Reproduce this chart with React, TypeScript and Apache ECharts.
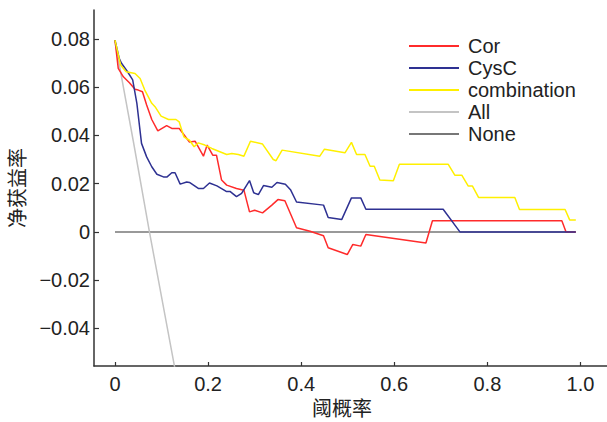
import React, { useEffect, useRef } from "react";
import * as echarts from "echarts";

const xTicks = [0, 0.2, 0.4, 0.6, 0.8, 1.0];
const yTicks = [-0.04, -0.02, 0, 0.02, 0.04, 0.06, 0.08];

const corData: [number, number][] = [
  [0, 0.0795], [0.007, 0.0678], [0.018, 0.0643], [0.031, 0.0618], [0.043, 0.0591],
  [0.05, 0.0588], [0.059, 0.0581], [0.068, 0.0526], [0.079, 0.0466], [0.092, 0.0419],
  [0.111, 0.0441], [0.122, 0.0429], [0.138, 0.0429], [0.16, 0.0373], [0.172, 0.0376],
  [0.19, 0.0314], [0.198, 0.036], [0.21, 0.0318], [0.218, 0.0318], [0.229, 0.0215],
  [0.24, 0.0194], [0.261, 0.018], [0.277, 0.0173], [0.289, 0.0083], [0.3, 0.009],
  [0.317, 0.0079], [0.337, 0.0111], [0.35, 0.0134], [0.365, 0.0129], [0.39, 0.0017],
  [0.419, 0.0003], [0.448, -0.0016], [0.458, -0.0066], [0.499, -0.0094], [0.511, -0.0052],
  [0.528, -0.0059], [0.539, -0.0011], [0.668, -0.0046], [0.682, 0.0046], [0.96, 0.0046],
  [0.969, 0], [0.99, 0],
];

const cysCData: [number, number][] = [
  [0, 0.0795], [0.009, 0.072], [0.014, 0.0699], [0.027, 0.0664], [0.038, 0.063],
  [0.047, 0.0533], [0.057, 0.0367], [0.068, 0.0311], [0.079, 0.027], [0.09, 0.0239],
  [0.104, 0.0228], [0.112, 0.0228], [0.122, 0.0245], [0.129, 0.0245], [0.14, 0.0198],
  [0.154, 0.0207], [0.16, 0.0205], [0.179, 0.018], [0.19, 0.018], [0.203, 0.0203],
  [0.219, 0.0191], [0.239, 0.0168], [0.247, 0.0168], [0.261, 0.0146], [0.272, 0.016],
  [0.289, 0.0213], [0.298, 0.0162], [0.308, 0.0155], [0.319, 0.0192], [0.337, 0.0185],
  [0.348, 0.0205], [0.366, 0.0198], [0.377, 0.0175], [0.39, 0.0124], [0.448, 0.0111],
  [0.458, 0.006], [0.487, 0.0051], [0.508, 0.0141], [0.528, 0.0141], [0.539, 0.0094],
  [0.705, 0.0094], [0.741, 0], [0.99, 0],
];

const combinationData: [number, number][] = [
  [0, 0.0795], [0.012, 0.0692], [0.024, 0.0664], [0.043, 0.0657], [0.054, 0.0636],
  [0.064, 0.0588], [0.079, 0.0533], [0.086, 0.0519], [0.099, 0.048], [0.115, 0.0466],
  [0.131, 0.0466], [0.138, 0.0456], [0.148, 0.0394], [0.16, 0.038], [0.17, 0.0353],
  [0.179, 0.0369], [0.193, 0.036], [0.208, 0.0346], [0.24, 0.0321], [0.251, 0.0325],
  [0.265, 0.0321], [0.277, 0.0314], [0.291, 0.0376], [0.317, 0.0364], [0.34, 0.03],
  [0.346, 0.0295], [0.359, 0.0339], [0.44, 0.0314], [0.45, 0.0343], [0.494, 0.0328],
  [0.508, 0.0371], [0.519, 0.0321], [0.537, 0.0321], [0.548, 0.0272], [0.557, 0.0272],
  [0.569, 0.0215], [0.598, 0.0212], [0.611, 0.028], [0.716, 0.028], [0.73, 0.0235],
  [0.745, 0.0235], [0.759, 0.019], [0.768, 0.019], [0.781, 0.0143], [0.859, 0.0143],
  [0.869, 0.0093], [0.967, 0.0093], [0.977, 0.0049], [0.99, 0.0049],
];

const allData: [number, number][] = [
  [0, 0.079], [0.039, 0.038], [0.074, 0], [0.13, -0.058],
];

const noneData: [number, number][] = [
  [0, 0], [0.99, 0],
];

const FONT = "'Liberation Sans', Arial, 'Noto Sans CJK SC', sans-serif";

export default function App() {
  const ref = useRef<HTMLDivElement>(null);
  useEffect(() => {
    if (!ref.current) return;
    const chart = echarts.init(ref.current, null, { renderer: "svg" });
    const mk = (name: string, data: [number, number][], color: string, z: number) => ({
      name,
      type: "line",
      data,
      symbol: "none",
      showSymbol: false,
      clip: true,
      z,
      lineStyle: { color, width: 1.5 },
      itemStyle: { color },
    });
    chart.setOption({
      animation: false,
      textStyle: { fontFamily: FONT },
      grid: { left: 94, right: 0, top: 10, bottom: 56, containLabel: false, outerBoundsMode: "none" },
      legend: {
        orient: "vertical",
        left: 408,
        top: 36,
        padding: 0,
        itemWidth: 50,
        itemHeight: 2,
        itemGap: 2,
        itemStyle: { opacity: 0 },
        textStyle: { fontSize: 20, color: "#222", fontFamily: FONT, padding: [0, 0, 0, 4], lineHeight: 20 },
        data: ["Cor", "CysC", "combination", "All", "None"],
      },
      xAxis: {
        type: "value",
        min: -0.0451,
        max: 1.057,
        name: "阈概率",
        nameLocation: "middle",
        nameGap: 33,
        nameTextStyle: { fontSize: 20, color: "#222", fontFamily: FONT, padding: [0, 17, 0, 0] },
        axisLine: { show: true, onZero: false, lineStyle: { color: "#333", width: 1.5 } },
        axisTick: { show: true, inside: true, length: 4, customValues: xTicks, lineStyle: { color: "#333", width: 1.2 } },
        axisLabel: {
          customValues: xTicks,
          fontSize: 20,
          color: "#222",
          margin: 8,
          fontFamily: FONT,
          formatter: (v: number) => (v === 0 ? "0" : v.toFixed(1)),
        },
        splitLine: { show: false },
      },
      yAxis: {
        type: "value",
        min: -0.0556,
        max: 0.092,
        name: "净获益率",
        nameLocation: "middle",
        nameGap: 66,
        nameRotate: 90,
        nameTextStyle: { fontSize: 20, color: "#222", fontFamily: FONT },
        axisLine: { show: true, onZero: false, lineStyle: { color: "#333", width: 1.5 } },
        axisTick: { show: true, inside: true, length: 5, customValues: yTicks, lineStyle: { color: "#333", width: 1.2 } },
        axisLabel: {
          customValues: yTicks,
          fontSize: 20,
          color: "#222",
          margin: 4,
          fontFamily: FONT,
          formatter: (v: number) => {
            if (Math.abs(v) < 1e-9) return "0";
            const s = Math.abs(v).toFixed(2);
            return v < 0 ? "\u2212" + s : s;
          },
        },
        splitLine: { show: false },
      },
      series: [
        mk("None", noneData, "#777777", 1),
        mk("All", allData, "#c4c4c4", 2),
        mk("Cor", corData, "#ff2b2b", 3),
        mk("CysC", cysCData, "#2e3192", 4),
        mk("combination", combinationData, "#fff000", 5),
      ],
    });
    return () => chart.dispose();
  }, []);
  return (
    <div
      ref={ref}
      style={{ position: "fixed", left: 0, top: 0, width: 607, height: 422, background: "#fff" }}
    />
  );
}
